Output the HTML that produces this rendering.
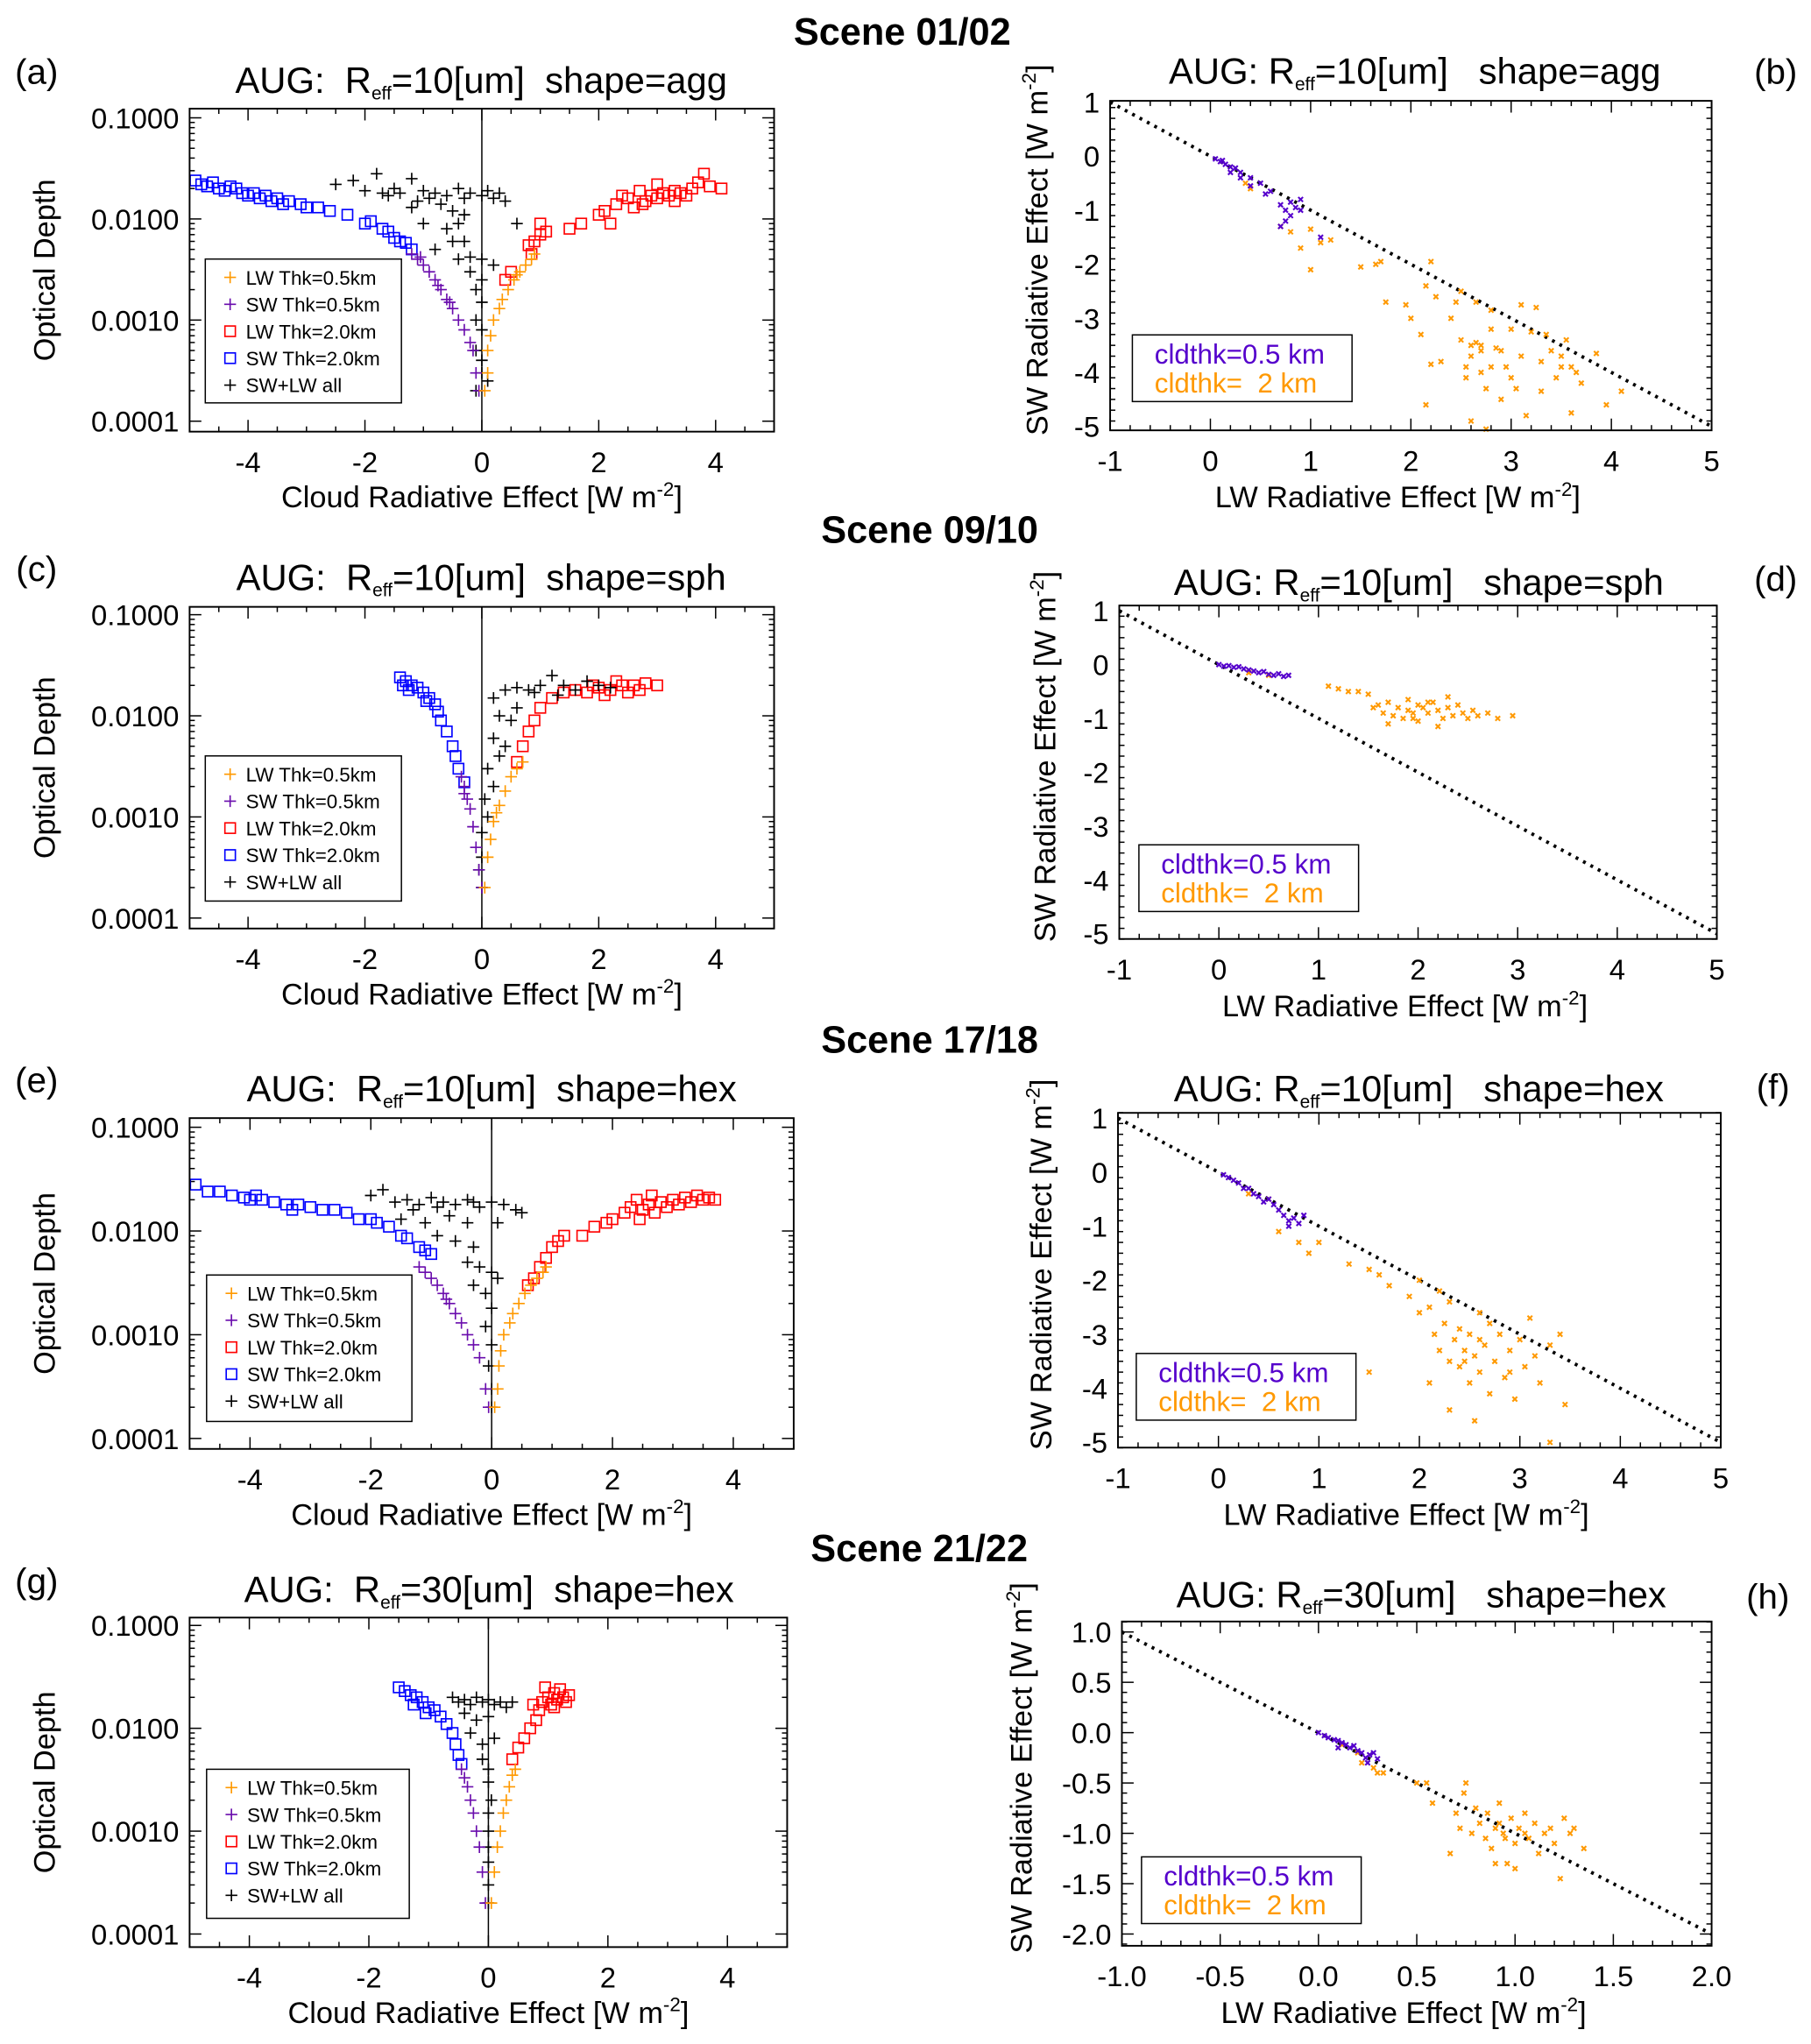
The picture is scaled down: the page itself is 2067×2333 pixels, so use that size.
<!DOCTYPE html>
<html><head><meta charset="utf-8"><title>Cloud radiative effect scenes</title>
<style>
html,body{margin:0;padding:0;background:#fff;}
svg{display:block;font-family:"Liberation Sans",Arial,sans-serif;}
text{white-space:pre;}
</style></head>
<body>
<svg id="fig" xmlns="http://www.w3.org/2000/svg" width="2067" height="2333" viewBox="0 0 1385 1563">
<rect x="0" y="0" width="1385" height="1563" fill="#fff"/>
</svg>
<script>
// ---------- Panel (a) agg, Reff=10 ----------
const a_lw05=[[0.05,0.0002],[0.1,0.0003],[0.1,0.0005],[0.15,0.0007],[0.2,0.001],[0.3,0.0013],[0.35,0.0016],[0.45,0.002],[0.55,0.0025],[0.65,0.003],[0.75,0.0035],[0.85,0.004],[0.9,0.0045],[0.6,0.0028]];
const a_sw05=[[-1.2,0.0045],[-1.1,0.004],[-1.0,0.0035],[-0.9,0.003],[-0.8,0.0025],[-0.7,0.002],[-0.6,0.0016],[-0.5,0.0013],[-0.4,0.001],[-0.3,0.0008],[-0.2,0.0006],[-0.15,0.0005],[-0.1,0.0003],[-0.05,0.0002],[-1.05,0.0042],[-0.75,0.0022],[-0.55,0.0015]];
const a_lw20=[[0.4,0.0025],[0.5,0.003],[0.85,0.0045],[0.8,0.0055],[0.9,0.006],[1.0,0.007],[1.1,0.0075],[1.0,0.009],[1.5,0.008],[1.7,0.009],[2.0,0.011],[2.2,0.009],[2.1,0.012],[2.3,0.014],[2.5,0.016],[2.6,0.013],[2.8,0.015],[2.7,0.019],[2.9,0.017],[3.0,0.016],[3.1,0.018],[3.2,0.017],[3.3,0.019],[3.4,0.018],[3.5,0.017],[3.6,0.02],[3.7,0.023],[3.8,0.028],[3.9,0.021],[4.1,0.02],[2.4,0.017],[3.0,0.022],[2.75,0.014],[3.3,0.015]];
const a_sw20=[[-4.9,0.024],[-4.8,0.022],[-4.7,0.021],[-4.5,0.02],[-4.4,0.019],[-4.2,0.02],[-4.1,0.018],[-4,0.017],[-3.9,0.018],[-3.8,0.016],[-3.7,0.017],[-3.6,0.015],[-3.5,0.016],[-3.4,0.014],[-3.3,0.015],[-3.1,0.014],[-3,0.013],[-2.8,0.013],[-2.6,0.012],[-2.3,0.011],[-2.0,0.009],[-1.9,0.0095],[-1.7,0.008],[-1.6,0.0075],[-1.5,0.0065],[-1.4,0.006],[-1.3,0.0058],[-1.2,0.005],[-4.6,0.023],[-4.3,0.021]];
const a_all=[[-2.5,0.022],[-2.2,0.024],[-1.8,0.028],[-2.0,0.019],[-1.7,0.018],[-1.5,0.02],[-1.2,0.025],[-1.0,0.019],[-0.8,0.018],[-0.6,0.017],[-0.4,0.02],[-0.2,0.018],[0,0.017],[0.2,0.016],[0.4,0.015],[0.3,0.018],[-1.1,0.015],[-1.2,0.013],[-0.7,0.014],[-0.5,0.012],[-0.3,0.011],[-1.0,0.009],[-0.6,0.008],[-0.4,0.009],[0.6,0.009],[-0.5,0.006],[-0.8,0.005],[-0.3,0.006],[-0.4,0.004],[-0.2,0.0042],[0,0.004],[0.2,0.0035],[-0.2,0.003],[0,0.0025],[-0.1,0.002],[0,0.0015],[-0.1,0.001],[0,0.0008],[-0.1,0.0005],[0,0.0004],[0,0.0003],[-0.1,0.0002],[0.1,0.00025],[-1.4,0.018],[-0.9,0.016],[-1.6,0.017],[-0.3,0.016],[0.1,0.019]];
// ---------- Panel (b) ----------
const b_thin=[[0.05,-0.05],[0.1,-0.1],[0.15,-0.15],[0.2,-0.2],[0.2,-0.3],[0.3,-0.3],[0.3,-0.4],[0.4,-0.4],[0.4,-0.55],[0.5,-0.5],[0.55,-0.7],[0.6,-0.65],[0.7,-0.9],[0.75,-1],[0.8,-0.85],[0.8,-1.1],[0.75,-1.2],[0.9,-0.8],[0.9,-1.0],[0.7,-1.3],[1.1,-1.5],[0.12,-0.08],[0.25,-0.22],[0.85,-0.95]];
const b_thick=[[0.35,-0.5],[0.4,-0.6],[0.7,-1.3],[0.8,-1.4],[0.9,-1.7],[1.0,-1.35],[1.1,-1.6],[1.0,-2.1],[1.2,-1.55],[1.5,-2.05],[1.65,-2.0],[1.7,-1.95],[1.75,-2.7],[1.95,-2.75],[2.0,-3.0],[2.1,-3.3],[2.15,-2.4],[2.2,-1.95],[2.25,-2.6],[2.2,-3.85],[2.3,-3.8],[2.4,-3.0],[2.45,-2.7],[2.5,-2.5],[2.5,-3.4],[2.55,-3.9],[2.6,-3.5],[2.65,-2.7],[2.7,-3.6],[2.7,-4.0],[2.75,-4.3],[2.8,-2.85],[2.8,-3.2],[2.85,-3.55],[2.9,-4.5],[2.95,-3.9],[3.0,-3.2],[3.0,-4.1],[3.05,-4.3],[3.1,-2.75],[3.1,-3.7],[3.2,-3.25],[3.25,-2.8],[3.3,-3.8],[3.3,-4.35],[3.4,-3.6],[3.45,-4.1],[3.5,-3.7],[3.55,-3.4],[3.6,-3.9],[3.65,-4.0],[3.7,-4.2],[3.85,-3.65],[3.95,-4.6],[4.1,-4.35],[2.6,-4.9],[2.75,-5.05],[3.15,-4.8],[3.6,-4.75],[2.15,-4.6],[2.9,-3.6],[2.65,-3.45],[2.6,-3.7],[2.7,-3.5],[2.8,-3.9],[3.35,-3.3],[3.5,-3.9],[2.55,-4.1]];
// ---------- Panel (c) sph ----------
const c_lw05=[[0.05,0.0002],[0.1,0.0004],[0.15,0.0006],[0.2,0.0009],[0.3,0.0013],[0.4,0.0018],[0.5,0.0025],[0.6,0.003],[0.7,0.0035],[0.25,0.0011]];
const c_sw05=[[-0.35,0.0025],[-0.3,0.002],[-0.25,0.0015],[-0.2,0.0012],[-0.15,0.0008],[-0.1,0.0005],[-0.05,0.0003],[0,0.0002],[-0.3,0.0017]];
const c_lw20=[[0.6,0.0035],[0.7,0.005],[0.8,0.007],[0.9,0.009],[1.0,0.012],[1.2,0.015],[1.4,0.017],[1.6,0.018],[1.8,0.017],[2.0,0.019],[2.2,0.018],[2.4,0.02],[2.6,0.02],[2.8,0.021],[3.0,0.02],[2.1,0.016],[2.5,0.017],[1.9,0.02],[2.3,0.022],[2.7,0.018]];
const c_sw20=[[-1.4,0.024],[-1.3,0.022],[-1.2,0.02],[-1.1,0.019],[-1.0,0.017],[-0.9,0.015],[-0.8,0.013],[-0.75,0.011],[-0.7,0.009],[-0.6,0.007],[-0.5,0.005],[-0.45,0.004],[-0.4,0.003],[-0.3,0.0022],[-1.25,0.018],[-0.95,0.014],[-1.35,0.02]];
const c_all=[[0.2,0.015],[0.4,0.018],[0.6,0.019],[0.8,0.018],[1.0,0.02],[1.2,0.025],[1.4,0.02],[1.6,0.018],[1.8,0.022],[2.0,0.02],[2.2,0.019],[0.3,0.01],[0.5,0.009],[0.6,0.012],[0.2,0.006],[0.4,0.005],[0.3,0.004],[0.1,0.003],[0.2,0.002],[0.05,0.0015],[0.1,0.001],[0,0.0007],[0,0.0004],[0,0.0002],[-0.05,0.0003],[1.3,0.016],[0.9,0.017]];
// ---------- Panel (d) ----------
const d_thin=[[0,0],[0.1,-0.02],[0.15,-0.05],[0.2,-0.04],[0.25,-0.08],[0.3,-0.1],[0.35,-0.12],[0.4,-0.15],[0.45,-0.13],[0.5,-0.18],[0.55,-0.2],[0.6,-0.17],[0.65,-0.22],[0.7,-0.2],[0.05,-0.03]];
const d_thick=[[0.3,-0.15],[0.5,-0.2],[1.1,-0.4],[1.2,-0.45],[1.3,-0.5],[1.4,-0.5],[1.5,-0.55],[1.55,-0.8],[1.6,-0.75],[1.65,-0.9],[1.7,-0.7],[1.75,-0.95],[1.8,-0.8],[1.85,-1.0],[1.9,-0.65],[1.9,-0.85],[1.95,-0.9],[2.0,-0.75],[2.0,-1.05],[2.05,-0.8],[2.1,-0.9],[2.15,-0.7],[2.2,-0.85],[2.25,-1.0],[2.3,-0.8],[2.35,-0.95],[2.4,-0.75],[2.45,-0.9],[2.5,-1.0],[2.55,-0.85],[2.6,-0.95],[2.7,-0.9],[2.8,-1.0],[2.95,-0.95],[1.7,-1.1],[2.2,-1.15],[2.3,-0.6],[2.1,-0.7],[1.95,-1.0]];
// ---------- Panel (e) hex ----------
const e_lw05=[[0.05,0.0002],[0.1,0.0003],[0.12,0.0005],[0.15,0.0007],[0.2,0.001],[0.3,0.0013],[0.35,0.0016],[0.45,0.002],[0.55,0.0025],[0.65,0.003],[0.75,0.0035],[0.85,0.004],[0.9,0.0045]];
const e_sw05=[[-1.2,0.0045],[-1.1,0.004],[-1.0,0.0035],[-0.9,0.003],[-0.8,0.0025],[-0.7,0.002],[-0.6,0.0016],[-0.5,0.0013],[-0.4,0.001],[-0.3,0.0008],[-0.2,0.0006],[-0.1,0.0003],[-0.05,0.0002],[-0.75,0.0022]];
const e_lw20=[[0.6,0.003],[0.7,0.0035],[0.8,0.0045],[0.9,0.0055],[1.0,0.007],[1.1,0.008],[1.2,0.009],[1.5,0.009],[1.7,0.011],[1.9,0.012],[2.0,0.013],[2.2,0.015],[2.3,0.017],[2.4,0.02],[2.5,0.016],[2.6,0.018],[2.7,0.015],[2.8,0.019],[2.9,0.017],[3.0,0.02],[3.1,0.018],[3.2,0.021],[3.3,0.019],[3.4,0.022],[3.5,0.02],[3.6,0.021],[3.7,0.02],[2.45,0.013],[2.65,0.022]];
const e_sw20=[[-4.9,0.028],[-4.7,0.024],[-4.5,0.024],[-4.3,0.022],[-4.1,0.021],[-4.0,0.02],[-3.8,0.02],[-3.6,0.019],[-3.4,0.018],[-3.2,0.018],[-3.0,0.017],[-2.8,0.016],[-2.6,0.016],[-2.4,0.015],[-2.2,0.013],[-2.0,0.013],[-1.9,0.012],[-1.7,0.011],[-1.5,0.009],[-1.4,0.0085],[-1.2,0.007],[-1.1,0.0065],[-1.0,0.006],[-3.9,0.022],[-3.3,0.016]];
const e_all=[[-2.0,0.022],[-1.8,0.025],[-1.6,0.019],[-1.4,0.02],[-1.2,0.018],[-1.0,0.021],[-0.8,0.019],[-0.6,0.018],[-0.4,0.02],[-0.2,0.017],[0,0.019],[0.2,0.018],[0.4,0.016],[0.5,0.015],[-1.5,0.013],[-1.1,0.012],[-0.7,0.014],[-0.4,0.012],[-0.9,0.009],[-0.6,0.008],[-0.3,0.007],[-0.4,0.005],[-0.2,0.0045],[0,0.004],[-0.3,0.003],[0.1,0.0035],[-0.1,0.0025],[0,0.0018],[-0.1,0.0012],[0,0.0008],[-0.05,0.0005],[0,0.0003],[0,0.0002],[-1.3,0.016],[0.1,0.012],[-0.9,0.017],[-0.3,0.019]];
// ---------- Panel (f) ----------
const f_thin=[[0.05,-0.05],[0.1,-0.1],[0.15,-0.15],[0.2,-0.2],[0.25,-0.3],[0.3,-0.3],[0.35,-0.4],[0.4,-0.45],[0.45,-0.55],[0.5,-0.5],[0.55,-0.6],[0.6,-0.7],[0.65,-0.8],[0.7,-0.9],[0.75,-0.85],[0.8,-0.95],[0.85,-0.8],[0.7,-1.0]];
const f_thick=[[0.3,-0.4],[0.5,-0.5],[0.6,-1.1],[0.8,-1.3],[0.9,-1.5],[1.0,-1.3],[1.3,-1.7],[1.5,-1.8],[1.6,-1.9],[1.7,-2.1],[1.9,-2.3],[2.0,-2.0],[2.0,-2.6],[2.1,-2.5],[2.15,-3.0],[2.2,-3.3],[2.2,-2.2],[2.25,-2.8],[2.3,-3.5],[2.3,-2.4],[2.35,-3.1],[2.4,-3.6],[2.4,-2.9],[2.45,-3.3],[2.5,-3.0],[2.5,-3.9],[2.55,-3.4],[2.6,-2.6],[2.6,-3.7],[2.65,-3.2],[2.7,-4.1],[2.7,-2.8],[2.75,-3.5],[2.8,-3.0],[2.85,-3.8],[2.9,-3.3],[2.95,-4.2],[3.0,-3.1],[3.05,-3.6],[3.1,-2.7],[3.15,-3.4],[3.2,-3.9],[3.3,-3.2],[3.4,-3.0],[3.45,-4.3],[2.3,-4.4],[2.55,-4.6],[1.5,-3.7],[3.3,-5.0],[2.1,-3.9],[2.45,-3.5],[2.6,-3.1],[2.9,-3.7]];
// ---------- Panel (g) hex Reff=30 ----------
const g_lw05=[[0.05,0.0002],[0.1,0.0004],[0.15,0.0007],[0.2,0.001],[0.25,0.0015],[0.3,0.002],[0.35,0.0027],[0.4,0.0035],[0.45,0.004]];
const g_sw05=[[-0.45,0.004],[-0.4,0.0033],[-0.35,0.0027],[-0.3,0.002],[-0.25,0.0015],[-0.2,0.001],[-0.15,0.0007],[-0.1,0.0004],[-0.05,0.0002]];
const g_lw20=[[0.4,0.005],[0.5,0.0065],[0.6,0.008],[0.7,0.01],[0.8,0.012],[0.85,0.015],[0.9,0.018],[1.0,0.02],[1.05,0.017],[1.1,0.022],[1.15,0.019],[1.2,0.024],[1.25,0.02],[1.3,0.018],[1.35,0.021],[0.95,0.025],[1.1,0.016],[0.75,0.017]];
const g_sw20=[[-1.5,0.025],[-1.4,0.023],[-1.3,0.021],[-1.2,0.02],[-1.1,0.018],[-1.0,0.016],[-0.9,0.015],[-0.8,0.013],[-0.7,0.011],[-0.6,0.009],[-0.55,0.007],[-0.5,0.0055],[-0.45,0.0045],[-1.25,0.017],[-1.05,0.014]];
const g_all=[[-0.6,0.02],[-0.5,0.018],[-0.4,0.019],[-0.3,0.017],[-0.2,0.02],[-0.1,0.018],[0,0.019],[0.1,0.017],[0.2,0.018],[0.3,0.016],[0.4,0.018],[-0.4,0.014],[-0.2,0.012],[0,0.013],[-0.3,0.009],[-0.1,0.007],[0.1,0.008],[-0.1,0.005],[0,0.004],[0,0.003],[0.05,0.002],[0,0.0015],[0,0.001],[0,0.0007],[0,0.0005],[0,0.0003],[0,0.0002]];
// ---------- Panel (h) ----------
const h_thin=[[0.0,0.0],[0.03,-0.03],[0.05,-0.05],[0.08,-0.07],[0.1,-0.08],[0.12,-0.1],[0.14,-0.12],[0.16,-0.15],[0.18,-0.13],[0.2,-0.18],[0.22,-0.2],[0.24,-0.25],[0.26,-0.22],[0.28,-0.2],[0.3,-0.26],[0.25,-0.3],[0.1,-0.15]];
const h_thick=[[0.12,-0.12],[0.2,-0.2],[0.22,-0.3],[0.28,-0.35],[0.3,-0.4],[0.33,-0.4],[0.5,-0.5],[0.55,-0.5],[0.58,-0.7],[0.7,-0.8],[0.72,-0.95],[0.74,-0.6],[0.75,-0.5],[0.78,-1.0],[0.8,-0.75],[0.82,-0.9],[0.85,-1.05],[0.86,-0.8],[0.88,-1.15],[0.9,-0.95],[0.92,-0.7],[0.94,-1.0],[0.96,-1.3],[0.98,-0.85],[1.0,-1.1],[1.02,-0.95],[1.05,-0.8],[1.07,-1.05],[1.1,-0.9],[1.12,-1.2],[1.15,-1.0],[1.18,-0.95],[1.2,-1.1],[1.25,-0.85],[1.28,-1.0],[1.3,-0.95],[1.35,-1.15],[1.23,-1.45],[0.67,-1.2],[1.0,-1.35],[0.9,-1.3],[0.92,-0.9],[0.95,-1.05],[1.05,-1.0]];

const svg=document.getElementById('fig');
const NS='http://www.w3.org/2000/svg';
function mk(tag,attrs,parent,text){const e=document.createElementNS(NS,tag);for(const k in attrs)e.setAttribute(k,attrs[k]);if(text!==undefined)e.textContent=text;(parent||svg).appendChild(e);return e;}

function plus(g,x,y,c,s){return mk('path',{d:`M${x-s} ${y}H${x+s}M${x} ${y-s}V${y+s}`,stroke:c,'stroke-width':1.1,fill:'none'},g);}
function square(g,x,y,c,s){return mk('rect',{x:x-s,y:y-s,width:2*s,height:2*s,stroke:c,'stroke-width':1.1,fill:'none'},g);}
function cross(g,x,y,c){return mk('path',{d:`M${x-1.8} ${y-1.8}L${x+1.8} ${y+1.8}M${x+1.8} ${y-1.8}L${x-1.8} ${y+1.8}`,stroke:c,'stroke-width':1.4,fill:'none'},g);}

function sceneTitle(text,x,y,id){
  const t=mk('text',{x:x,y:y,'text-anchor':'middle','font-size':29,'font-weight':'bold'},svg,text);
  
  
}
function panelTitle(g,cx,y,reff,shape,gap1,gap2){
  const t=mk('text',{x:cx,y:y,'text-anchor':'middle','font-size':28},g);
  
  
  mk('tspan',{},t,'AUG:'+gap1+'R');
  mk('tspan',{'font-size':14,dy:5},t,'eff');
  mk('tspan',{dy:-5},t,'='+reff+'[um]'+gap2+'shape='+shape);
}

function leftPanel(P){
  const g=mk('g',{});
  
  
  const {x0,x1,y0,y1,t1,t4}=P;
  const X=v=>x0+(v+5)/10*(x1-x0);
  const Y=v=>t1+(-1-Math.log10(v))/3*(t4-t1);
  for(let v=-5;v<=5.001;v+=0.5){const major=Math.abs(v%2)<1e-6;const L=major?9:4;
    mk('line',{x1:X(v),x2:X(v),y1:y1,y2:y1-L,stroke:'#000','stroke-width':1},g);
    mk('line',{x1:X(v),x2:X(v),y1:y0,y2:y0+L,stroke:'#000','stroke-width':1},g);}
  for(let d=-4;d<=-1;d++){for(let m=1;m<=9;m++){const v=m*Math.pow(10,d);const yy=Y(v);if(yy<y0||yy>y1)continue;const L=m===1?9:4;
    mk('line',{x1:x0,x2:x0+L,y1:yy,y2:yy,stroke:'#000','stroke-width':1},g);
    mk('line',{x1:x1,x2:x1-L,y1:yy,y2:yy,stroke:'#000','stroke-width':1},g);}}
  mk('line',{x1:X(0),x2:X(0),y1:y0,y2:y1,stroke:'#000','stroke-width':1},g);
  const tickY=[0.1,0.01,0.001,0.0001], tickYL=['0.1000','0.0100','0.0010','0.0001'];
  tickY.forEach((v,i)=>{const t=mk('text',{x:x0-8,y:Y(v)+8,'text-anchor':'end','font-size':22},g,tickYL[i]);});
  const tickX=[-4,-2,0,2,4];
  tickX.forEach(v=>{const t=mk('text',{x:X(v),y:y1+31,'text-anchor':'middle','font-size':22},g,String(v));});
  const xt=mk('text',{x:(x0+x1)/2,y:y1+58,'text-anchor':'middle','font-size':23},g);
  
  mk('tspan',{},xt,'Cloud Radiative Effect [W m');mk('tspan',{dy:-9,'font-size':15},xt,'-2');mk('tspan',{dy:9},xt,']');
  const yt=mk('text',{x:0,y:0,'text-anchor':'middle','font-size':23,transform:`translate(42,${(y0+y1)/2}) rotate(-90)`},g,'Optical Depth');
  
  const series=[[P.sw20,'#0000ff','sq'],[P.lw20,'#ff0000','sq'],[P.all,'#000','pl'],[P.sw05,'#6a0dad','pl'],[P.lw05,'#ff9900','pl']];
  const names=['sw-thk2-points','lw-thk2-points','sw-lw-all-points','sw-thk05-points','lw-thk05-points'];
  series.forEach(([arr,c,kind],si)=>{const sg=mk('g',{},g);
    arr.forEach(([x,y])=>{const px=X(x),py=Y(y);if(kind==='sq')square(sg,px,py,c,4);else plus(sg,px,py,c,4.5);});});
  mk('rect',{x:x0,y:y0,width:x1-x0,height:y1-y0,fill:'none',stroke:'#000','stroke-width':1.3},g);
  const L=P.leg;
  const lg=mk('g',{},g);
  mk('rect',{x:L[0],y:L[1],width:L[2],height:L[3],fill:'#fff',stroke:'#000','stroke-width':1},lg);
  const labs=['LW Thk=0.5km','SW Thk=0.5km','LW Thk=2.0km','SW Thk=2.0km','SW+LW all'];
  const cols=['#ff9900','#6a0dad','#ff0000','#0000ff','#000'];
  const kinds=['pl','pl','sq','sq','pl'];
  labs.forEach((s,i)=>{const yy=L[1]+14+i*20.6;const eg=mk('g',{},lg);
    if(kinds[i]==='sq')square(eg,L[0]+19,yy,cols[i],4);else plus(eg,L[0]+19,yy,cols[i],4.5);
    mk('text',{x:L[0]+31,y:yy+5.5,'font-size':15},eg,s);});
  panelTitle(g,P.tx,P.ty,P.reff,P.shape,'  ','  ');
  const pl=mk('text',{x:P.lx,y:P.ly,'text-anchor':'middle','font-size':27},g,P.lab);
  
}

function rightPanel(P){
  const g=mk('g',{});
  
  
  const {x0,x1,y0,y1,xmin,xmax,ya,yav,yb,ybv}=P;
  const X=v=>x0+(v-xmin)/(xmax-xmin)*(x1-x0);
  const Y=v=>ya+(v-yav)/(ybv-yav)*(yb-ya);
  for(let v=xmin;v<=xmax+1e-6;v+=P.xminor){const major=Math.abs(((v-xmin)/P.xmajor)-Math.round((v-xmin)/P.xmajor))<1e-6;const L=major?9:4;
    mk('line',{x1:X(v),x2:X(v),y1:y1,y2:y1-L,stroke:'#000','stroke-width':1},g);
    mk('line',{x1:X(v),x2:X(v),y1:y0,y2:y0+L,stroke:'#000','stroke-width':1},g);}
  for(let v=P.ymin;v<=P.ymax+1e-6;v+=P.yminor){const yy=Y(v);if(yy<y0-0.5||yy>y1+0.5)continue;const major=Math.abs(v/P.ymajor-Math.round(v/P.ymajor))<1e-6;const L=major?9:4;
    mk('line',{x1:x0,x2:x0+L,y1:yy,y2:yy,stroke:'#000','stroke-width':1},g);
    mk('line',{x1:x1,x2:x1-L,y1:yy,y2:yy,stroke:'#000','stroke-width':1},g);}
  P.yt.forEach((v,i)=>{const t=mk('text',{x:x0-8,y:Y(v)+8,'text-anchor':'end','font-size':22},g,P.ytl[i]);});
  P.xt.forEach((v,i)=>{const t=mk('text',{x:X(v),y:y1+31,'text-anchor':'middle','font-size':22},g,P.xtl[i]);});
  const xt=mk('text',{x:(x0+x1)/2-10,y:y1+59,'text-anchor':'middle','font-size':23},g);
  
  mk('tspan',{},xt,'LW Radiative Effect [W m');mk('tspan',{dy:-9,'font-size':15},xt,'-2');mk('tspan',{dy:9},xt,']');
  const yt=mk('text',{x:0,y:0,'text-anchor':'middle','font-size':23,transform:`translate(${P.yx},${(y0+y1)/2-12}) rotate(-90)`},g);
  
  mk('tspan',{},yt,'SW Radiative Effect [W m');mk('tspan',{dy:-9,'font-size':15},yt,'-2');mk('tspan',{dy:9},yt,']');
  const dl=mk('line',{x1:X(xmin),y1:Y(-xmin),x2:X(xmax),y2:Y(-xmax),stroke:'#000','stroke-width':2.6,'stroke-dasharray':'2.2 4.2'},g);
  
  const s1=mk('g',{},g);
  P.thick.forEach(([x,y])=>cross(s1,X(x),Y(y),'#ff9900'));
  const s2=mk('g',{},g);
  P.thin.forEach(([x,y])=>cross(s2,X(x),Y(y),'#5500cc'));
  mk('rect',{x:x0,y:y0,width:x1-x0,height:y1-y0,fill:'none',stroke:'#000','stroke-width':1.3},g);
  const L=P.leg;
  const lg=mk('g',{},g);
  mk('rect',{x:L[0],y:L[1],width:168,height:51,fill:'#fff',stroke:'#000','stroke-width':1},lg);
  mk('text',{x:L[0]+17,y:L[1]+22,'font-size':21,fill:'#5500cc'},lg,'cldthk=0.5 km');
  mk('text',{x:L[0]+17,y:L[1]+44,'font-size':21,fill:'#ff9900'},lg,'cldthk=  2 km');
  panelTitle(g,P.tx,P.ty,P.reff,P.shape,' ','   ');
  const pl=mk('text',{x:P.lx,y:P.ly,'text-anchor':'middle','font-size':27},g,P.lab);
  
}

sceneTitle('Scene 01/02',690,34,'scene-title-01-02');
sceneTitle('Scene 09/10',711,415,'scene-title-09-10');
sceneTitle('Scene 17/18',711,805,'scene-title-17-18');
sceneTitle('Scene 21/22',703,1194,'scene-title-21-22');

leftPanel({name:'panel-a',x0:145,x1:592,y0:83,y1:330,t1:90,t4:322,lw05:a_lw05,sw05:a_sw05,lw20:a_lw20,sw20:a_sw20,all:a_all,leg:[157,198,150,110],tx:368,ty:71,reff:10,shape:'agg',lab:'(a)',lx:28,ly:64});
leftPanel({name:'panel-c',x0:145,x1:592,y0:464,y1:710,t1:470,t4:702,lw05:c_lw05,sw05:c_sw05,lw20:c_lw20,sw20:c_sw20,all:c_all,leg:[157,578,150,111],tx:368,ty:451,reff:10,shape:'sph',lab:'(c)',lx:28,ly:444});
leftPanel({name:'panel-e',x0:145,x1:607,y0:855,y1:1108,t1:862,t4:1100,lw05:e_lw05,sw05:e_sw05,lw20:e_lw20,sw20:e_sw20,all:e_all,leg:[158,975,157,112],tx:376,ty:842,reff:10,shape:'hex',lab:'(e)',lx:28,ly:835});
leftPanel({name:'panel-g',x0:145,x1:602,y0:1237,y1:1489,t1:1243,t4:1479,lw05:g_lw05,sw05:g_sw05,lw20:g_lw20,sw20:g_sw20,all:g_all,leg:[158,1353,155,114],tx:374,ty:1225,reff:30,shape:'hex',lab:'(g)',lx:28,ly:1218});

const stdY=[1,0,-1,-2,-3,-4,-5], stdYL=['1','0','-1','-2','-3','-4','-5'];
const stdX=[-1,0,1,2,3,4,5], stdXL=['-1','0','1','2','3','4','5'];
rightPanel({name:'panel-b',x0:849,x1:1309,y0:77,y1:329,xmin:-1,xmax:5,ya:78,yav:1,yb:326,ybv:-5,ymin:-5.5,ymax:1.5,xminor:0.2,xmajor:1,yminor:0.2,ymajor:1,yt:stdY,ytl:stdYL,xt:stdX,xtl:stdXL,thin:b_thin,thick:b_thick,leg:[866,256],tx:1082,ty:64,reff:10,shape:'agg',lab:'(b)',lx:1358,ly:64,yx:801});
rightPanel({name:'panel-d',x0:856,x1:1313,y0:463,y1:718,xmin:-1,xmax:5,ya:467,yav:1,yb:714,ybv:-5,ymin:-5.5,ymax:1.5,xminor:0.2,xmajor:1,yminor:0.2,ymajor:1,yt:stdY,ytl:stdYL,xt:stdX,xtl:stdXL,thin:d_thin,thick:d_thick,leg:[871,646],tx:1085,ty:455,reff:10,shape:'sph',lab:'(d)',lx:1358,ly:452,yx:807});
rightPanel({name:'panel-f',x0:855,x1:1316,y0:851,y1:1107,xmin:-1,xmax:5,ya:855,yav:1,yb:1103,ybv:-5,ymin:-5.5,ymax:1.5,xminor:0.2,xmajor:1,yminor:0.2,ymajor:1,yt:stdY,ytl:stdYL,xt:stdX,xtl:stdXL,thin:f_thin,thick:f_thick,leg:[869,1035],tx:1085,ty:842,reff:10,shape:'hex',lab:'(f)',lx:1356,ly:840,yx:804});
rightPanel({name:'panel-h',x0:858,x1:1309,y0:1240,y1:1488,xmin:-1,xmax:2,ya:1248,yav:1,yb:1479,ybv:-2,ymin:-2.5,ymax:1.5,xminor:0.1,xmajor:0.5,yminor:0.1,ymajor:0.5,yt:[1,0.5,0,-0.5,-1,-1.5,-2],ytl:['1.0','0.5','0.0','-0.5','-1.0','-1.5','-2.0'],xt:[-1,-0.5,0,0.5,1,1.5,2],xtl:['-1.0','-0.5','0.0','0.5','1.0','1.5','2.0'],thin:h_thin,thick:h_thick,leg:[873,1420],tx:1087,ty:1229,reff:30,shape:'hex',lab:'(h)',lx:1352,ly:1230,yx:789});
</script>
</body></html>
